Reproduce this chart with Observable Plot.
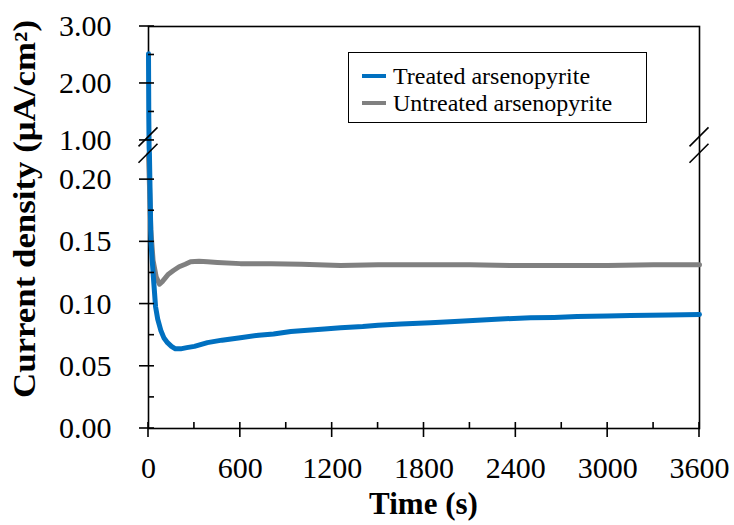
<!DOCTYPE html>
<html>
<head>
<meta charset="utf-8">
<script src="https://cdn.jsdelivr.net/npm/d3@7"></script>
<script src="https://cdn.jsdelivr.net/npm/@observablehq/plot@0.6"></script>
<style>
  html, body { margin: 0; padding: 0; background: #fff; }
  #wrap { position: relative; width: 734px; height: 525px; }
  #wrap svg { font-family: "Liberation Serif", "Times New Roman", serif; }
  #legend {
    position: absolute; left: 348px; top: 52px; width: 297px; height: 69px;
    border: 1.6px solid #000; background: #fff;
    font-family: "Liberation Serif", "Times New Roman", serif; font-size: 24px; color: #000;
  }
  .row { position: absolute; left: 0; height: 26px; line-height: 26px; white-space: nowrap; }
  .sw { position: absolute; left: 13px; top: 11px; width: 24px; height: 4px; }
  .lab { position: absolute; left: 44px; top: 0; }
</style>
</head>
<body>
<div id="wrap"></div>
<script>
// ---- data ----
const seriesNames = ["Treated arsenopyrite", "Untreated arsenopyrite"];
const seriesColors = ["#0070C0", "#808080"];

const treatedTime = [0, 2, 4, 6, 9, 16, 30, 46, 60, 80, 100, 124, 150, 176, 210, 250, 300, 385, 480, 600, 720, 817, 930, 1039, 1150, 1255, 1400, 1500, 1650, 1843, 2000, 2150, 2300, 2496, 2650, 2800, 3000, 3149, 3400, 3600];
const treatedValue = [2.52, 1.4, 0.6, 0.3, 0.2, 0.15, 0.125, 0.098, 0.088, 0.079, 0.073, 0.069, 0.066, 0.064, 0.064, 0.065, 0.066, 0.069, 0.071, 0.073, 0.075, 0.076, 0.078, 0.079, 0.080, 0.081, 0.082, 0.083, 0.084, 0.085, 0.086, 0.087, 0.088, 0.089, 0.0893, 0.090, 0.0905, 0.0908, 0.0912, 0.0916];

const untreatedTime = [0, 15, 30, 50, 72, 90, 110, 130, 163, 200, 240, 275, 330, 385, 450, 600, 800, 1000, 1255, 1500, 1800, 2100, 2400, 2700, 3000, 3300, 3600];
const untreatedValue = [0.25, 0.16, 0.135, 0.122, 0.116, 0.118, 0.121, 0.124, 0.127, 0.130, 0.132, 0.134, 0.1345, 0.134, 0.1335, 0.1325, 0.1325, 0.132, 0.131, 0.1315, 0.1315, 0.1315, 0.131, 0.131, 0.131, 0.1315, 0.1315];

const xMajorTicks = [0, 600, 1200, 1800, 2400, 3000, 3600];
const xMinorTicks = [300, 900, 1500, 2100, 2700, 3300];
const yMajorTicks = [0, 0.05, 0.10, 0.15, 0.20, 1, 2, 3];
const yMinorTicks = [0.025, 0.075, 0.125, 0.175, 1.5, 2.5];
const yBreak = [0.22, 1];           // broken axis: jumps from 0.22 to 1.00
const xTitle = "Time (s)";
const yTitle = "Current density (μA/cm²)";

// ---- broken-axis transform (lower part 0–0.22, upper part 1–3 compressed) ----
const breakGap = 0.0115, upperScale = 57 / 1245;
function brk(v) {
  if (v <= yBreak[0]) return v;
  if (v < yBreak[1]) return yBreak[0] + (v - yBreak[0]) / (yBreak[1] - yBreak[0]) * breakGap;
  return yBreak[0] + breakGap + (v - yBreak[1]) * upperScale;
}

const treated = treatedTime.map((t, i) => ({t, v: treatedValue[i]}));
const untreated = untreatedTime.map((t, i) => ({t, v: untreatedValue[i]}));

function decorations(index, scales) {
  const x = scales.x, y = v => scales.y(brk(v));
  const g = d3.create("svg:g").attr("stroke", "#000").attr("fill", "none");
  const x0 = x(0), x1 = x(3600), y0 = y(0);
  const L = (a, b, c, d) => g.append("line").attr("x1", a).attr("y1", b).attr("x2", c).attr("y2", d).style("stroke-width", "1.6px");
  for (const t of xMajorTicks) L(x(t), y0 - 6, x(t), y0 + 9);
  for (const t of xMinorTicks) L(x(t), y0 - 6, x(t), y0);
  for (const v of yMajorTicks) L(x0 - 9, y(v), x0 + 6, y(v));
  for (const v of yMinorTicks) L(x0, y(v), x0 + 6, y(v));
  const bys = [y(yBreak[1]) - 3, y(yBreak[0]) - 1];
  for (const bx of [x0, x1]) for (const by of bys) L(bx - 9.5, by + 9.5, bx + 9.5, by - 9.5);
  return g.node();
}

const chart = Plot.plot({
  width: 734,
  height: 525,
  marginLeft: 148,
  marginRight: 35,
  marginTop: 26,
  marginBottom: 97,
  style: {fontFamily: "Liberation Serif, Times New Roman, serif", fontSize: "30px", color: "#000", background: "#fff"},
  x: {domain: [0, 3600], ticks: xMajorTicks, tickSize: 0, tickPadding: 28, tickFormat: d => String(d), label: null},
  y: {transform: brk, domain: [0, brk(3)], axis: null, label: null},
  marks: [
    Plot.frame({stroke: "#000", strokeWidth: 1.6}),
    Plot.line(untreated, {x: "t", y: "v", stroke: seriesColors[1], strokeWidth: 5}),
    Plot.line(treated, {x: "t", y: "v", stroke: seriesColors[0], strokeWidth: 5}),
    decorations,
    Plot.text(yMajorTicks, {x: () => 0, y: d => d, text: d3.format(".2f"), textAnchor: "end", dx: -37, fontSize: 30, fill: "#000"})
  ]
});
document.getElementById("wrap").appendChild(chart);

// axis titles
const svg = d3.select(chart);
svg.append("text").text(xTitle)
  .attr("x", (148 + 699) / 2).attr("y", 514)
  .attr("text-anchor", "middle").attr("font-weight", "bold").attr("font-size", 31).attr("fill", "#000");
svg.append("text").text(yTitle)
  .attr("transform", "translate(35,209) rotate(-90)")
  .attr("text-anchor", "middle").attr("font-weight", "bold").attr("font-size", 31)
  .attr("textLength", 378).attr("lengthAdjust", "spacingAndGlyphs").attr("fill", "#000");

const legend = document.createElement("div");
legend.id = "legend";
seriesNames.forEach((name, i) => {
  const row = document.createElement("div");
  row.className = "row";
  row.style.top = (10 + i * 27) + "px";
  row.innerHTML = `<span class="sw" style="background:${seriesColors[i]}"></span><span class="lab">${name}</span>`;
  legend.appendChild(row);
});
document.getElementById("wrap").appendChild(legend);
</script>
</body>
</html>
